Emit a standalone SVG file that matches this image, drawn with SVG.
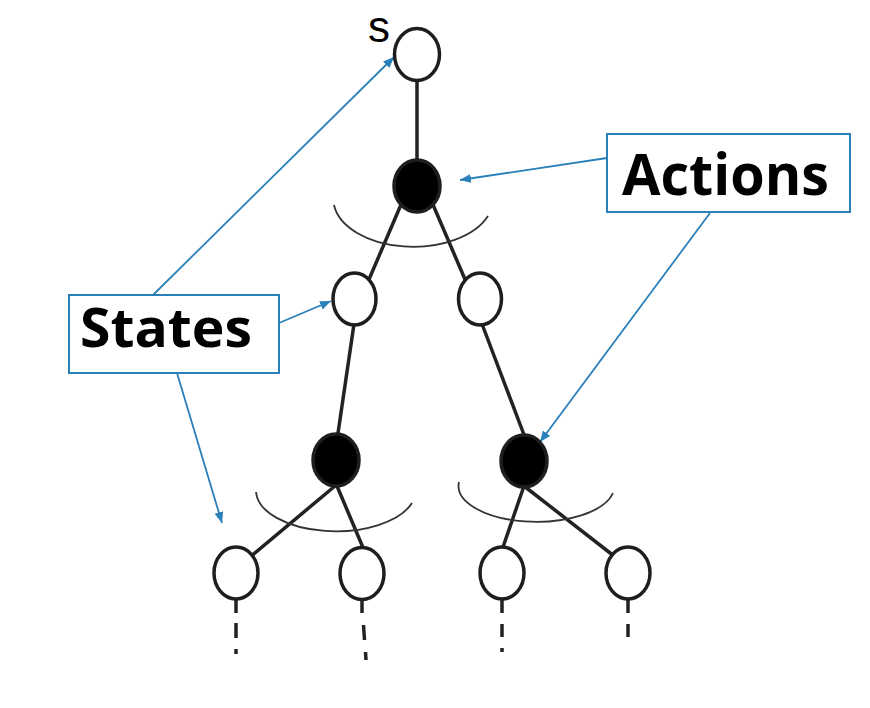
<svg xmlns="http://www.w3.org/2000/svg" width="870" height="708" viewBox="0 0 870 708">
  <defs>
    <style>
      .edge { stroke: #222; stroke-width: 3.5; fill: none; stroke-linecap: butt; }
      .arc { stroke: #333; stroke-width: 1.8; fill: none; }
      .state { fill: #fff; stroke: #1e1e1e; stroke-width: 3.5; }
      .action { fill: #000; stroke: #1e1e1e; stroke-width: 3.5; }
      .callout { stroke: #2a80b9; stroke-width: 1.8; fill: none; }
      .box { fill: #fff; stroke: #2a80b9; stroke-width: 2; }
      .label { font-family: "Open Sans", "Liberation Sans", sans-serif; font-weight: bold; fill: #000; }
    </style>
    <marker id="arrow" markerUnits="userSpaceOnUse" markerWidth="12" markerHeight="10" refX="11" refY="4.5" orient="auto">
      <path d="M0,0 L11,4.5 L0,9 Z" fill="#2a80b9"/>
    </marker>
  </defs>

  <rect width="870" height="708" fill="#fff"/>

  <!-- tree edges and spread arcs -->
  <g id="connectors">
    <line class="edge" x1="417" y1="80" x2="417" y2="160"/>
    <line class="edge" x1="403" y1="200" x2="367" y2="284"/>
    <line class="edge" x1="431" y1="200" x2="467" y2="284"/>
    <line class="edge" x1="354" y1="324" x2="337" y2="440"/>
    <line class="edge" x1="482" y1="324" x2="526" y2="440"/>
    <line class="edge" x1="335" y1="486" x2="250" y2="557"/>
    <line class="edge" x1="337" y1="486" x2="364" y2="550"/>
    <line class="edge" x1="524" y1="486" x2="502" y2="550"/>
    <line class="edge" x1="524" y1="486" x2="614" y2="556"/>

    <path class="arc" d="M334,205 A80,48 0 0,0 488,216"/>
    <path class="arc" d="M256,492 A80,41 0 0,0 412,503"/>
    <path class="arc" d="M459,482 A78,36 0 0,0 613,493"/>

    <!-- continuation marks below the leaf states -->
    <g class="edge">
      <line x1="236" y1="598" x2="236" y2="613"/>
      <line x1="236" y1="623" x2="236" y2="638"/>
      <line x1="236" y1="649" x2="236" y2="654"/>
      <line x1="362" y1="598" x2="362" y2="613"/>
      <line x1="363.5" y1="625" x2="364.5" y2="640"/>
      <line x1="365.5" y1="652" x2="366" y2="660"/>
      <line x1="502" y1="598" x2="502" y2="613"/>
      <line x1="502" y1="624" x2="502" y2="637"/>
      <line x1="502" y1="648" x2="502" y2="652"/>
      <line x1="628" y1="598" x2="628" y2="613"/>
      <line x1="628" y1="624" x2="628" y2="637"/>
    </g>

    <!-- callout arrows -->
    <line class="callout" x1="153" y1="295" x2="394" y2="57" marker-end="url(#arrow)"/>
    <line class="callout" x1="279" y1="323" x2="331" y2="301" marker-end="url(#arrow)"/>
    <line class="callout" x1="177" y1="373" x2="222" y2="523" marker-end="url(#arrow)"/>
    <line class="callout" x1="607" y1="158" x2="460" y2="180" marker-end="url(#arrow)"/>
    <line class="callout" x1="710" y1="213" x2="540" y2="442" marker-end="url(#arrow)"/>
  </g>

  <!-- root state -->
  <g id="root">
    <ellipse class="state" cx="417" cy="54.5" rx="22.5" ry="26"/>
    <text x="368" y="42" font-family="'Liberation Sans', 'Open Sans', sans-serif" font-size="44" fill="#000">s</text>
  </g>

  <!-- action nodes -->
  <g id="action-1"><ellipse class="action" cx="417" cy="186" rx="23" ry="26"/></g>
  <g id="action-2"><ellipse class="action" cx="336" cy="460" rx="23" ry="26"/></g>
  <g id="action-3"><ellipse class="action" cx="524" cy="461" rx="23" ry="26"/></g>

  <!-- second-level states -->
  <g id="state-l"><ellipse class="state" cx="354.5" cy="299" rx="21.5" ry="26"/></g>
  <g id="state-r"><ellipse class="state" cx="480" cy="299" rx="21.5" ry="26"/></g>

  <!-- leaf states -->
  <g id="leaf-1"><ellipse class="state" cx="236" cy="573" rx="22" ry="26"/></g>
  <g id="leaf-2"><ellipse class="state" cx="362" cy="573.5" rx="22" ry="26"/></g>
  <g id="leaf-3"><ellipse class="state" cx="502" cy="573" rx="22" ry="26"/></g>
  <g id="leaf-4"><ellipse class="state" cx="628" cy="573" rx="22" ry="26"/></g>

  <!-- label boxes -->
  <g id="states-label">
    <rect class="box" x="69" y="295" width="210" height="78"/>
    <text class="label" x="80" y="347" font-size="53" textLength="172" lengthAdjust="spacingAndGlyphs">States</text>
  </g>
  <g id="actions-label">
    <rect class="box" x="607" y="134" width="243" height="78"/>
    <text class="label" x="622" y="195" font-size="58" textLength="207" lengthAdjust="spacingAndGlyphs">Actions</text>
  </g>
</svg>
